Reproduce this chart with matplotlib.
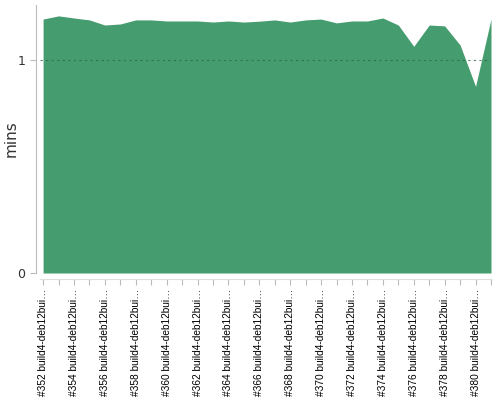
import numpy as np
import matplotlib
matplotlib.use("Agg")
import matplotlib.pyplot as plt

# build numbers and durations (mins)
builds = list(range(352, 382))
mins = [1.192, 1.207, 1.197, 1.188, 1.164, 1.169, 1.188, 1.188, 1.183, 1.183,
        1.183, 1.178, 1.183, 1.178, 1.182, 1.188, 1.178, 1.188, 1.192, 1.174,
        1.183, 1.183, 1.197, 1.164, 1.064, 1.164, 1.160, 1.070, 0.876, 1.192]
labels = ["#%d build4-deb12bui…" % b for b in builds]

fig = plt.figure(figsize=(5, 4), dpi=100)
ax = fig.add_axes([0.08, 0.3175, 0.902, 0.67])

# spines first (set_position resets the ticks)
for s in ["top", "right"]:
    ax.spines[s].set_visible(False)
ax.spines["left"].set_color("#bbbbbb")
ax.spines["bottom"].set_color("#dddddd")
ax.spines["bottom"].set_position(("outward", 4))
ax.spines["left"].set_position(("outward", 3))

x = np.arange(len(builds))
ax.fill_between(x, 0, mins, color="#459c6e", linewidth=0)
ax.axhline(1, color="#2e6b4a", linestyle=(0, (2, 3)), linewidth=0.8, alpha=0.8)

ax.set_xlim(-0.2, len(builds) - 1)
ax.set_ylim(0, 1.258)
ax.set_yticks([0, 1])
ax.set_yticklabels(["0", "1"], color="#333333", fontsize=9)
ax.set_xticks(x)
ax.set_xticklabels([l if i % 2 == 0 else "" for i, l in enumerate(labels)],
                   rotation=90, fontsize=7.3, color="black",
                   family="Liberation Sans")
ax.tick_params(axis="x", length=4, color="#bbbbbb", width=0.8, pad=3)
ax.tick_params(axis="y", length=4, color="#bbbbbb", width=0.8)

ax.set_ylabel("mins", fontsize=11, color="#333333")
ax.yaxis.set_label_coords(-0.047, 0.5)

fig.savefig("out.png", dpi=100)
